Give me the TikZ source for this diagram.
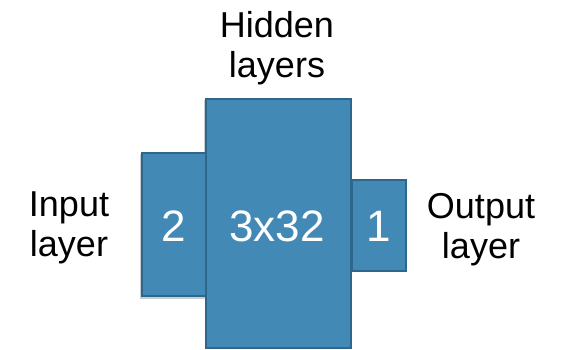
\documentclass[tikz,border=0pt]{standalone}
\usepackage{fontspec}
\setmainfont{Liberation Sans}
\definecolor{layerfill}{HTML}{4389B5}
\definecolor{layeredge}{HTML}{2E678E}
\definecolor{layershade}{HTML}{C9CED3}
\begin{document}
\begin{tikzpicture}[x=1pt,y=-1pt,
  layerbox/.style={draw=layeredge,line width=2.2pt,fill=layerfill},
  layershadow/.style={draw=layershade,line width=1.2pt},
  count/.style={text=white,font=\fontsize{44}{48}\selectfont,anchor=base,inner sep=0pt},
  caption/.style={text=black,align=center,anchor=base,inner sep=0pt,
    font=\fontsize{36}{40}\selectfont}]
\useasboundingbox (0,0) rectangle (572,350);
% layer blocks, drawn back to front
\draw[layershadow] (140.5,154) -- (140.5,298) -- (205,298);
\draw[layerbox] (142,153) rectangle (206,296);
\draw[layershadow] (204.3,100) -- (204.3,152);
\draw[layerbox] (206,99) rectangle (351,348);
\draw[layerbox] (352,180) rectangle (406,271);
% sizes of each layer
\node[count] (nin) at (174,241) {2};
\node[count] (nhid) at (277,241) {3x32};
\node[count] (nout) at (379,241) {1};
% layer captions (anchored at the baseline of their last line)
\node[caption] (hid) at (277,78) {Hidden\\layers};
\node[caption] (inp) at (69,256) {Input\\layer};
\node[caption] (outp) at (481,258) {Output\\layer};
\end{tikzpicture}
\end{document}
